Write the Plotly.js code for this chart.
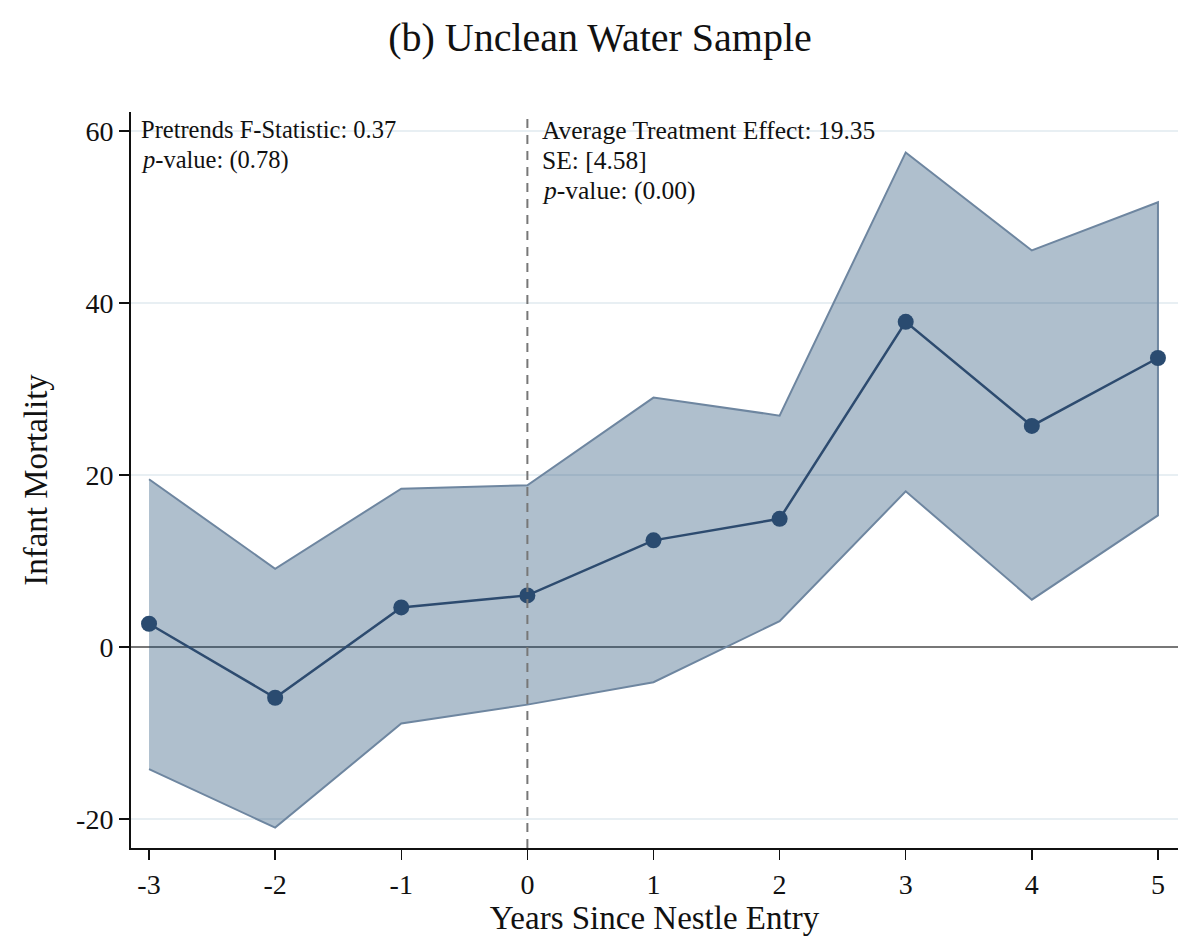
<!DOCTYPE html>
<html><head><meta charset="utf-8">
<script src="https://cdn.plot.ly/plotly-3.0.1.min.js"></script>
<style>body{margin:0;background:#fff}#chart{width:1200px;height:938px}</style>
</head><body><div id="chart"></div>
<script>
const years = [-3, -2, -1, 0, 1, 2, 3, 4, 5];
const estimate = [2.7, -5.9, 4.6, 6.0, 12.4, 14.9, 37.8, 25.7, 33.6];
const ciUpper = [19.5, 9.1, 18.4, 18.8, 29.0, 26.9, 57.5, 46.1, 51.7];
const ciLower = [-14.2, -21.0, -8.9, -6.7, -4.1, 3.0, 18.1, 5.5, 15.3];
const yTicks = [-20, 0, 20, 40, 60];
const xTicks = [-3, -2, -1, 0, 1, 2, 3, 4, 5];
const leftNote = ["Pretrends F-Statistic: 0.37", "<i>p</i>-value: (0.78)"];
const rightNote = ["Average Treatment Effect: 19.35", "SE: [4.58]", "<i>p</i>-value: (0.00)"];

const font = "'Liberation Serif', 'DejaVu Serif', serif";
const bandX = years.concat(years.slice().reverse());
const bandY = ciUpper.concat(ciLower.slice().reverse());

const traces = [
  {x: bandX, y: bandY, type: 'scatter', mode: 'lines', fill: 'toself',
   fillcolor: 'rgba(26,71,111,0.35)', line: {color: '#6e86a0', width: 2},
   hoverinfo: 'skip', showlegend: false},
  {x: years, y: estimate, type: 'scatter', mode: 'lines+markers',
   line: {color: '#2d4b6f', width: 2.5}, marker: {color: '#2a4b70', size: 16},
   showlegend: false}
];

const annotations = [];
leftNote.forEach((t, i) => annotations.push({
  xref: 'paper', yref: 'paper', x: 0.008, y: 0.997, yshift: -29.5 * i,
  xanchor: 'left', yanchor: 'top', align: 'left', text: t, showarrow: false,
  font: {family: font, size: 24.5, color: '#111'}}));
rightNote.forEach((t, i) => annotations.push({
  xref: 'x', yref: 'paper', x: 0, xshift: 13, y: 0.997, yshift: -30 * i,
  xanchor: 'left', yanchor: 'top', align: 'left', text: t, showarrow: false,
  font: {family: font, size: 25.5, color: '#111'}}));

const layout = {
  width: 1200, height: 938,
  margin: {l: 131, r: 22, t: 112, b: 90},
  paper_bgcolor: '#fff', plot_bgcolor: '#fff',
  font: {family: font, color: '#111', size: 22},
  title: {text: '(b) Unclean Water Sample', x: 0.5, xanchor: 'center', y: 0.9606, yanchor: 'middle',
          font: {family: font, size: 40, color: '#111'}},
  xaxis: {range: [-3.143, 5.159], tickvals: xTicks, ticktext: xTicks.map(String),
          ticks: 'outside', ticklen: 10, tickwidth: 1.5, tickcolor: '#111',
          showline: true, linecolor: '#111', linewidth: 2, showgrid: false, zeroline: false,
          tickfont: {family: font, size: 28},
          title: {text: 'Years Since Nestle Entry', standoff: 0, font: {family: font, size: 33}}},
  yaxis: {range: [-23.37, 62.2], tickvals: yTicks, ticktext: yTicks.map(String),
          ticks: 'outside', ticklen: 10, tickwidth: 1.5, tickcolor: '#111',
          showline: true, linecolor: '#111', linewidth: 2,
          showgrid: true, gridcolor: '#e8eff3', gridwidth: 2,
          zeroline: true, zerolinecolor: '#777', zerolinewidth: 2,
          tickfont: {family: font, size: 28},
          title: {text: 'Infant Mortality', standoff: 19, font: {family: font, size: 33}}},
  shapes: [
    {type: 'line', xref: 'x', yref: 'paper', x0: 0, x1: 0, y0: 0, y1: 1,
     line: {color: '#777', width: 2, dash: '9px,7px'}}
  ],
  annotations: annotations
};
Plotly.newPlot('chart', traces, layout, {displayModeBar: false, staticPlot: true});
</script></body></html>
